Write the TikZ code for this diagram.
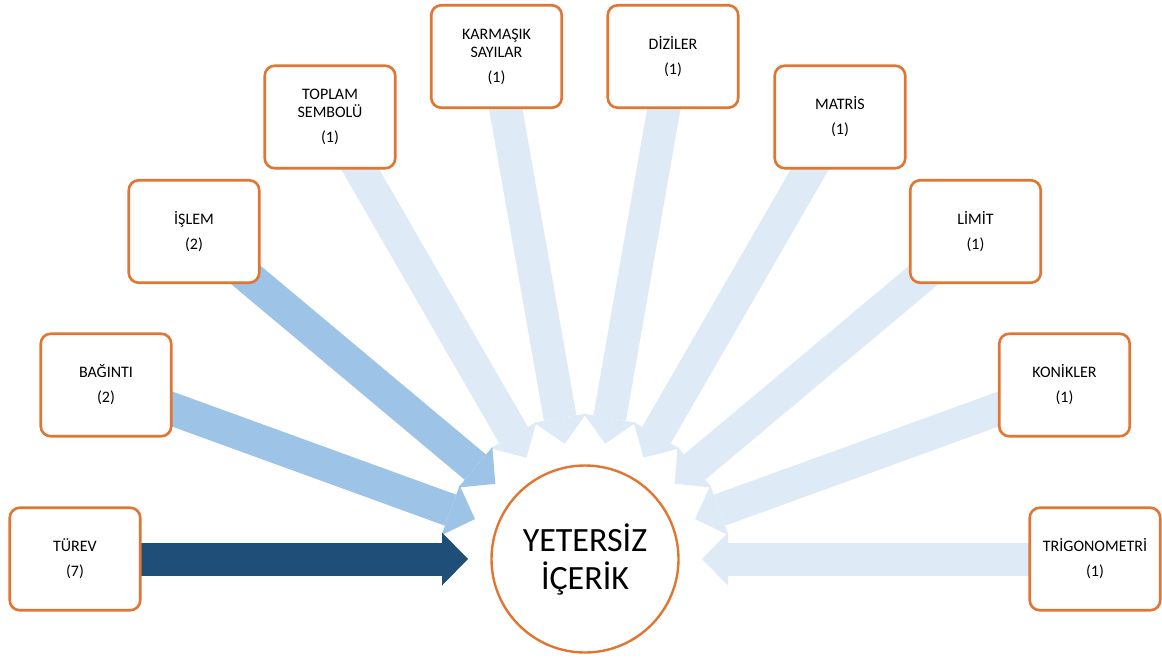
\documentclass[tikz,border=0pt]{standalone}
\usepackage{fontspec}
\setmainfont{Carlito}
\usetikzlibrary{arrows.meta,calc,backgrounds}

\definecolor{rimorange}{HTML}{E07632}
\definecolor{flowdark}{HTML}{1F4E79}
\definecolor{flowmid}{HTML}{9DC3E6}
\definecolor{flowlight}{HTML}{DEEBF7}

\begin{document}
\begin{tikzpicture}[x=1pt,y=-1pt,
  topic/.style={draw=rimorange, line width=2.6pt, fill=white,
    rounded corners=10pt, minimum width=130.5pt, minimum height=102.5pt,
    inner sep=0pt, align=center, font=\fontsize{16}{18}\selectfont},
  hub/.style={circle, draw=rimorange, line width=2.4pt, fill=white,
    minimum size=187pt, inner sep=0pt, align=center,
    font=\fontsize{34}{38}\selectfont},
  flow/.style={draw=#1, line width=33pt,
    -{Triangle[length=26pt,width=53pt,line width=0pt]}},
]
\useasboundingbox (0,0) rectangle (1162,657);

% centre
\node[hub] (c) at (585,559) {YETERS\.IZ\\\.IÇER\.IK};

% topic boxes
\node[topic] (turev) at (75,559)     {TÜREV\\[7pt](7)};
\node[topic] (bag)   at (106,385)    {BAĞINTI\\[7pt](2)};
\node[topic] (islem) at (194,231.5)  {\.IŞLEM\\[7pt](2)};
\node[topic] (top)   at (330,117)    {TOPLAM\\SEMBOLÜ\\[7pt](1)};
\node[topic] (karm)  at (496.5,56.5) {KARMAŞIK\\SAYILAR\\[7pt](1)};
\node[topic] (diz)   at (673,56.5)   {D\.IZ\.ILER\\[7pt](1)};
\node[topic] (mat)   at (840,117)    {MATR\.IS\\[7pt](1)};
\node[topic] (lim)   at (975.5,231.5){L\.IM\.IT\\[7pt](1)};
\node[topic] (kon)   at (1064.5,385) {KON\.IKLER\\[7pt](1)};
\node[topic] (trig)  at (1095,559)   {TR\.IGONOMETR\.I\\[7pt](1)};

% block arrows behind the boxes, each ending 117pt short of the centre
\begin{scope}[on background layer]
  \foreach \src in {top,karm,diz,mat,lim,kon,trig}
    \draw[flow=flowlight] (\src.center) -- ($(c.center)!117pt!(\src.center)$);
  \foreach \src in {islem,bag}
    \draw[flow=flowmid] (\src.center) -- ($(c.center)!117pt!(\src.center)$);
  \draw[flow=flowdark] (turev.center) -- ($(c.center)!117pt!(turev.center)$);
\end{scope}
\end{tikzpicture}
\end{document}
